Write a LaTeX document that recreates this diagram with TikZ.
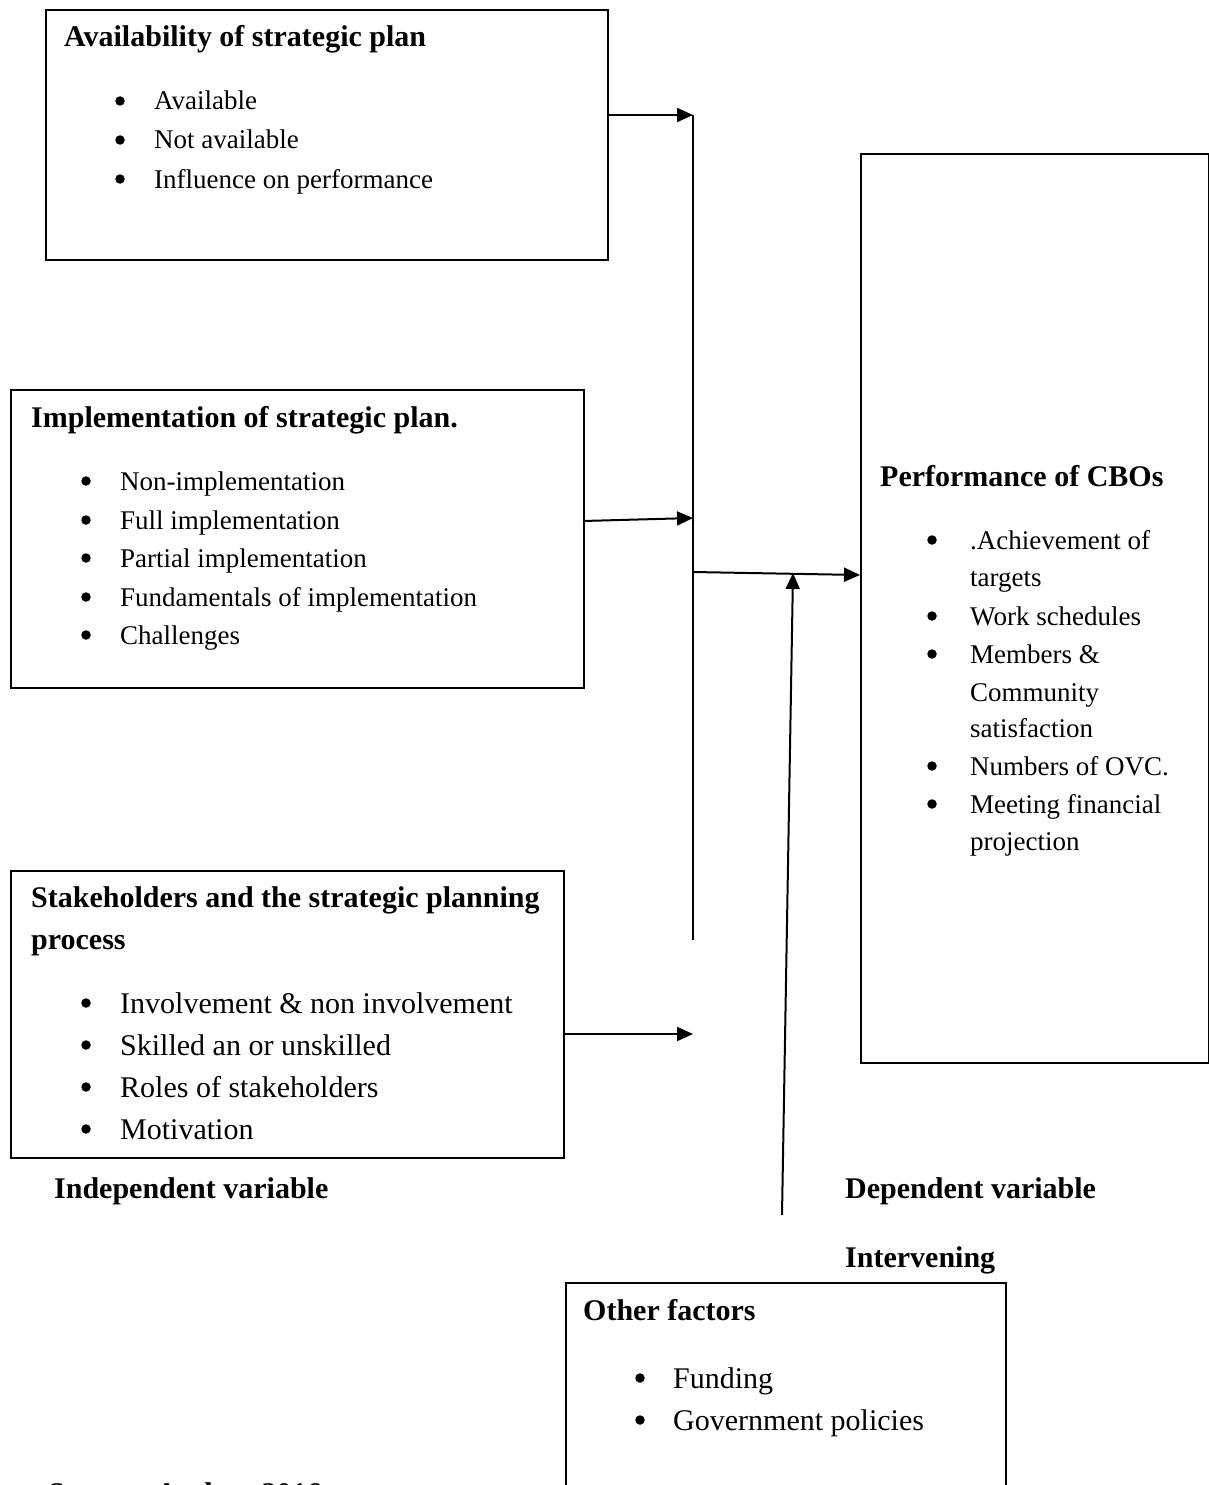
\documentclass[tikz,border=0pt]{standalone}
\usepackage{fontspec}
\setmainfont{Liberation Serif}
\usetikzlibrary{arrows.meta}
\tikzset{
 box/.style={draw, line width=2pt, anchor=north west, inner sep=0pt, rectangle},
 conn/.style={line width=2pt},
 arr/.style={conn, -{Triangle[length=16pt,width=14pt]}},
 ttl/.style={anchor=base west, inner sep=0pt, font=\fontsize{30}{36}\bfseries\selectfont},
 txt/.style={anchor=base west, inner sep=0pt, font=\fontsize{27}{32}\selectfont},
 txtb/.style={anchor=base west, inner sep=0pt, font=\fontsize{30}{36}\selectfont},
 dot/.style={circle, fill, inner sep=0pt, minimum size=9.5pt},
}
\begin{document}
\begin{tikzpicture}[x=1pt,y=-1pt]
\useasboundingbox (0,0) rectangle (1209,1485);
\clip (0,0) rectangle (1209,1485);

% boxes
\node[box, minimum width=562pt, minimum height=250pt] (b1) at (45,9) {};
\node[box, minimum width=573pt, minimum height=298pt] (b2) at (10,389) {};
\node[box, minimum width=553pt, minimum height=287pt] (b3) at (10,870) {};
\node[box, minimum width=348pt, minimum height=909pt] (b5) at (860,153) {};
\node[box, minimum width=440pt, minimum height=240pt] (b4) at (565,1282) {};

% box 1
\node[ttl] (t1) at (64,47) {Availability of strategic plan};
\node[dot] (d11) at (120,101) {}; \node[txt] (x11) at (154,110) {Available};
\node[dot] (d12) at (120,140) {}; \node[txt] (x12) at (154,149) {Not available};
\node[dot] (d13) at (120,179) {}; \node[txt] (x13) at (154,188) {Influence on performance};

% box 2
\node[ttl] (t2) at (31,427) {Implementation of strategic plan.};
\node[dot] (d21) at (86,481) {}; \node[txt] (x21) at (120,490) {Non-implementation};
\node[dot] (d22) at (86,520) {}; \node[txt] (x22) at (120,529) {Full implementation};
\node[dot] (d23) at (86,558) {}; \node[txt] (x23) at (120,567) {Partial implementation};
\node[dot] (d24) at (86,597) {}; \node[txt] (x24) at (120,606) {Fundamentals of implementation};
\node[dot] (d25) at (86,635) {}; \node[txt] (x25) at (120,644) {Challenges};

% box 3
\node[ttl] (t3a) at (31,907) {Stakeholders and the strategic planning};
\node[ttl] (t3b) at (31,949) {process};
\node[dot] (d31) at (86,1003) {}; \node[txtb] (x31) at (120,1013) {Involvement \& non involvement};
\node[dot] (d32) at (86,1045) {}; \node[txtb] (x32) at (120,1055) {Skilled an or unskilled};
\node[dot] (d33) at (86,1087) {}; \node[txtb] (x33) at (120,1097) {Roles of stakeholders};
\node[dot] (d34) at (86,1129) {}; \node[txtb] (x34) at (120,1139) {Motivation};

% right box
\node[ttl] (t5) at (880,486) {Performance of CBOs};
\node[dot] (d51) at (932,540) {}; \node[txt] (x51) at (970,549) {.Achievement of};
\node[txt] (x51b) at (970,586) {targets};
\node[dot] (d52) at (932,616) {}; \node[txt] (x52) at (970,625) {Work schedules};
\node[dot] (d53) at (932,654) {}; \node[txt] (x53) at (970,663) {Members \&};
\node[txt] (x53b) at (970,701) {Community};
\node[txt] (x53c) at (970,737) {satisfaction};
\node[dot] (d54) at (932,766) {}; \node[txt] (x54) at (970,775) {Numbers of OVC.};
\node[dot] (d55) at (932,804) {}; \node[txt] (x55) at (970,813) {Meeting financial};
\node[txt] (x55b) at (970,850) {projection};

% box 4
\node[ttl] (t4) at (583,1320) {Other factors};
\node[dot] (d41) at (640,1378) {}; \node[txtb] (x41) at (673,1388) {Funding};
\node[dot] (d42) at (640,1420) {}; \node[txtb] (x42) at (673,1430) {Government policies};

% labels
\node[ttl] (l1) at (54,1198) {Independent variable};
\node[ttl] (l2) at (845,1198) {Dependent variable};
\node[ttl] (l3) at (845,1267) {Intervening};
\node[ttl] (l4) at (48,1503) {Source: Author, 2016};

% connectors
\coordinate (vtop) at (693,115);
\coordinate (vbot) at (693,940);
\coordinate (a2s) at (583,521);
\coordinate (a2e) at (693,518);
\coordinate (a3s) at (563,1034);
\coordinate (a3e) at (693,1034);
\coordinate (m1) at (693,572);
\coordinate (m2) at (860,575);
\coordinate (i1) at (782,1215);
\coordinate (i2) at (793,573);

\draw[conn] (vtop) -- (vbot);
\draw[arr] (b1.east |- vtop) -- (vtop);
\draw[arr] (a2s) -- (a2e);
\draw[arr] (a3s) -- (a3e);
\draw[arr] (m1) -- (m2);
\draw[arr] (i1) -- (i2);
\end{tikzpicture}
\end{document}
